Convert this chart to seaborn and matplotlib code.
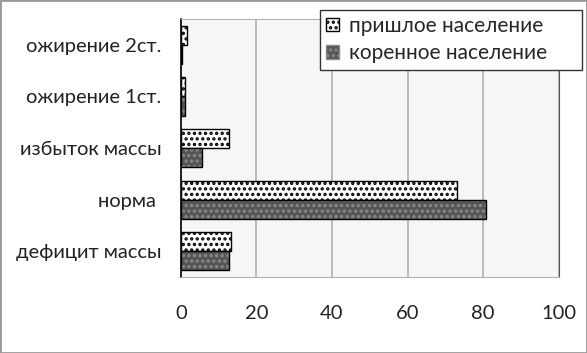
import pandas as pd
import seaborn as sns
import matplotlib.pyplot as plt
from matplotlib.patches import Rectangle

categories = ['ожирение 2ст.', 'ожирение 1ст.', 'избыток массы', 'норма ', 'дефицит массы']
series = ['пришлое население', 'коренное население']
migrant = [1.7, 1.2, 12.7, 73.0, 13.2]
native = [0.3, 1.0, 5.7, 80.7, 12.7]
xticks = [0, 20, 40, 60, 80, 100]

df = pd.DataFrame({
    'cat': categories * 2,
    'group': [series[0]] * len(categories) + [series[1]] * len(categories),
    'value': migrant + native,
})

sns.set_style('white')
plt.rcParams['font.family'] = ['Lato', 'DejaVu Sans']
plt.rcParams['hatch.linewidth'] = 1.6

fig = plt.figure(figsize=(5.87, 3.53), dpi=100)
ax = fig.add_axes([0.308, 0.215, 0.644, 0.731])
ax.set_facecolor('#f6f6f6')

sns.barplot(data=df, y='cat', x='value', hue='group', order=categories,
            hue_order=series, palette=['white', '#555555'], orient='h',
            width=0.74, ax=ax, legend=False, saturation=1)

n = len(categories)
for i, p in enumerate(ax.patches[:2 * n]):
    if i < n:
        p.set_edgecolor('black')
        p.set_hatch('...')
        p.set_linewidth(1.0)
    else:
        p.set_edgecolor('#8a8a8a')
        p.set_hatch('...')
        p.set_linewidth(0)
        ax.add_patch(Rectangle(p.get_xy(), p.get_width(), p.get_height(),
                               fill=False, edgecolor='black', linewidth=1.0))

ax.set_xlim(0, 100)
ax.set_xticks(xticks)
ax.set_xticklabels([str(t) for t in xticks])
ax.set_ylim(n - 0.5, -0.5)
ax.xaxis.grid(True, color='#b0b0b0', linewidth=1.2)
ax.set_axisbelow(True)
ax.set_xlabel('')
ax.set_ylabel('')
ax.tick_params(axis='x', length=0, pad=20, labelsize=14.5, colors='#222222')
ax.tick_params(axis='y', length=0, pad=14, labelsize=14.5, colors='#222222')
ax.set_yticks(range(n), minor=False)
ax.set_yticks([k - 0.5 for k in range(n)], minor=True)
ax.tick_params(axis='y', which='minor', length=7, direction='inout', color='black', width=1)

for s in ['top', 'bottom']:
    ax.spines[s].set_color('#b0b0b0')
ax.spines['right'].set_color('#555555')
ax.spines['left'].set_color('black')
ax.spines['left'].set_linewidth(1.2)

handles = [Rectangle((0, 0), 1, 1, facecolor='white', edgecolor='black', hatch='...'),
           Rectangle((0, 0), 1, 1, facecolor='#555555', edgecolor='#8a8a8a', hatch='...')]
leg = fig.legend(handles, series, loc='upper left',
                 bbox_to_anchor=(0.545, 0.807, 0.447, 0.165), mode='expand',
                 fontsize=15, frameon=True, fancybox=False, edgecolor='#333333',
                 handlelength=0.6, handleheight=0.6, handletextpad=0.5,
                 borderpad=0.3, labelspacing=0.35, borderaxespad=0)
leg.get_frame().set_linewidth(1.0)
leg.get_frame().set_facecolor('white')
leg.get_frame().set_alpha(1)

fig.patches.append(Rectangle((0, 0), 1, 1, transform=fig.transFigure, fill=False,
                             edgecolor='#999999', linewidth=2))

fig.savefig('out.png', dpi=100)
